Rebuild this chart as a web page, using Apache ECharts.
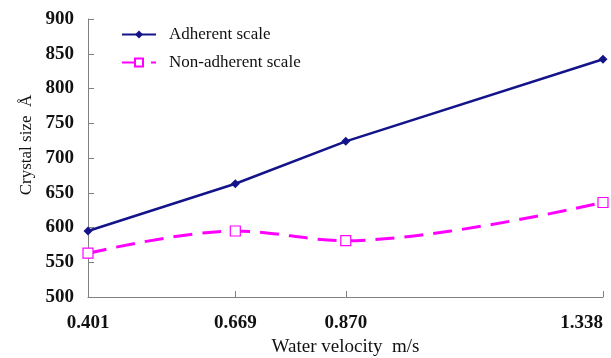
<!DOCTYPE html>
<html>
<head>
<meta charset="utf-8">
<script src="https://cdn.jsdelivr.net/npm/echarts@6/dist/echarts.min.js"></script>
<style>
  html, body { margin: 0; padding: 0; background: #fff; }
  #chart { width: 611px; height: 358px; }
</style>
</head>
<body>
<div id="chart"></div>
<script>
// water velocity (m/s) and crystal size (Å)
const velocities = [0.401, 0.669, 0.870, 1.338];
const adherent = [595, 663, 724, 842];
const nonAdherent = [563, 595, 581, 636];
const seriesNames = ['Adherent scale', 'Non-adherent scale'];

const pairs = (ys) => velocities.map((v, i) => [v, ys[i]]);
const font = 'Liberation Serif, Times New Roman, serif';

const chart = echarts.init(document.getElementById('chart'));
chart.setOption({
    animation: false,
    grid: { left: 88, right: 8, top: 19, bottom: 61, outerBoundsMode: 'none' },
    legend: {
        orient: 'vertical',
        left: 116,
        top: 21,
        itemWidth: 34,
        itemHeight: 10,
        itemGap: 11,
        textStyle: { fontFamily: font, fontSize: 17, color: '#111', padding: [0, 0, 0, 8] },
        data: seriesNames
    },
    xAxis: {
        type: 'value',
        min: velocities[0],
        max: velocities[velocities.length - 1],
        name: 'Water velocity  m/s',
        nameLocation: 'middle',
        nameGap: 40,
        nameTextStyle: { fontFamily: font, fontSize: 19, color: '#111' },
        axisLine: { lineStyle: { color: '#808080' } },
        axisTick: { inside: true, length: 6, customValues: velocities, lineStyle: { color: '#808080' } },
        axisLabel: {
            customValues: velocities,
            margin: 17,
            alignMaxLabel: 'right',
            fontFamily: font, fontSize: 19, fontWeight: 'bold', color: '#111',
            formatter: (v) => v.toFixed(3)
        },
        splitLine: { show: false }
    },
    yAxis: {
        type: 'value',
        min: 500,
        max: 900,
        interval: 50,
        name: 'Crystal size  Å',
        nameLocation: 'middle',
        nameGap: 52,
        nameTextStyle: { fontFamily: font, fontSize: 17, color: '#111', padding: [0, 0, 0, 26] },
        axisLine: { show: true, lineStyle: { color: '#808080' } },
        axisTick: { show: true, inside: true, length: 6, lineStyle: { color: '#808080' } },
        axisLabel: { margin: 14, fontFamily: font, fontSize: 19, fontWeight: 'bold', color: '#111' },
        splitLine: { show: false }
    },
    series: [
        {
            name: seriesNames[0],
            type: 'line',
            data: pairs(adherent),
            symbol: 'diamond',
            symbolSize: 9,
            itemStyle: { color: '#14148a' },
            lineStyle: { color: '#14148a', width: 2.5 }
        },
        {
            name: seriesNames[1],
            type: 'line',
            data: pairs(nonAdherent),
            smooth: 0.35,
            symbol: 'rect',
            symbolSize: 10,
            itemStyle: { color: '#fff', borderColor: '#ff00ff', borderWidth: 1.2 },
            lineStyle: { color: '#ff00ff', width: 3, type: [19, 10] }
        }
    ]
});
</script>
</body>
</html>
